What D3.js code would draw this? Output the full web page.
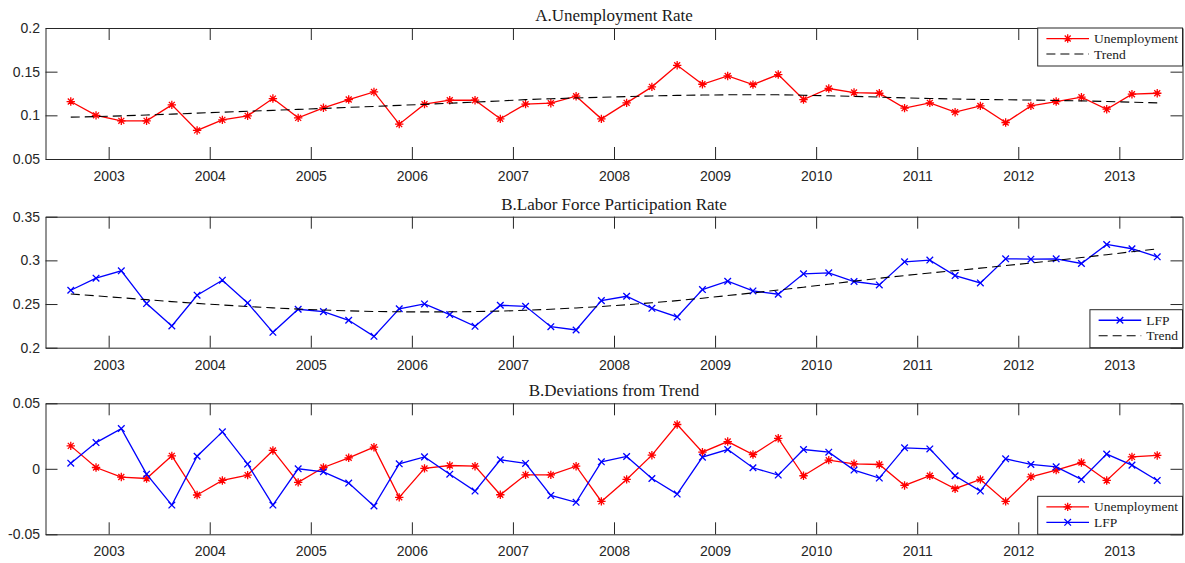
<!DOCTYPE html>
<html>
<head>
<meta charset="utf-8">
<script src="https://cdn.jsdelivr.net/npm/d3@7"></script>
<style>
  body { margin: 0; background: #fff; }
  svg { display: block; }
</style>
</head>
<body>
<svg id="chart" width="1185" height="563"></svg>
<script>
// Quarterly observations, 2002Q3 – 2013Q2
const quarters = [
  "2002Q3","2002Q4",
  "2003Q1","2003Q2","2003Q3","2003Q4",
  "2004Q1","2004Q2","2004Q3","2004Q4",
  "2005Q1","2005Q2","2005Q3","2005Q4",
  "2006Q1","2006Q2","2006Q3","2006Q4",
  "2007Q1","2007Q2","2007Q3","2007Q4",
  "2008Q1","2008Q2","2008Q3","2008Q4",
  "2009Q1","2009Q2","2009Q3","2009Q4",
  "2010Q1","2010Q2","2010Q3","2010Q4",
  "2011Q1","2011Q2","2011Q3","2011Q4",
  "2012Q1","2012Q2","2012Q3","2012Q4",
  "2013Q1","2013Q2"
];

const unemployment = [
  0.1158, 0.1000, 0.0937, 0.0937, 0.1120, 0.0827, 0.0948, 0.0994, 0.1192, 0.0971,
  0.1086, 0.1181, 0.1268, 0.0899, 0.1128, 0.1173, 0.1173, 0.0960, 0.1128, 0.1139,
  0.1219, 0.0960, 0.1143, 0.1326, 0.1573, 0.1356, 0.1451, 0.1352, 0.1467, 0.1181,
  0.1307, 0.1261, 0.1253, 0.1082, 0.1143, 0.1036, 0.1108, 0.0918, 0.1108, 0.1158,
  0.1208, 0.1070, 0.1242, 0.1253
];

const unemploymentTrend = [
  0.0979, 0.0986, 0.0994, 0.1004, 0.1014, 0.1025, 0.1036, 0.1046, 0.1057, 0.1068,
  0.1079, 0.1091, 0.1102, 0.1114, 0.1126, 0.1139, 0.1152, 0.1165, 0.1180, 0.1190,
  0.1199, 0.1207, 0.1215, 0.1222, 0.1228, 0.1232, 0.1235, 0.1236, 0.1235, 0.1230,
  0.1224, 0.1217, 0.1209, 0.1200, 0.1193, 0.1187, 0.1182, 0.1178, 0.1175, 0.1170,
  0.1165, 0.1159, 0.1150, 0.1143
];

const lfp = [
  0.2658, 0.2796, 0.2880, 0.2505, 0.2249, 0.2601, 0.2773, 0.2513, 0.2176, 0.2440,
  0.2413, 0.2314, 0.2130, 0.2446, 0.2501, 0.2379, 0.2245, 0.2486, 0.2474, 0.2241,
  0.2203, 0.2539, 0.2589, 0.2451, 0.2352, 0.2666, 0.2761, 0.2650, 0.2612, 0.2846,
  0.2857, 0.2758, 0.2719, 0.2983, 0.3003, 0.2826, 0.2742, 0.3018, 0.3014, 0.3018,
  0.2964, 0.3182, 0.3133, 0.3041
];

const lfpTrend = [
  0.2615, 0.2594, 0.2572, 0.2550, 0.2528, 0.2507, 0.2489, 0.2472, 0.2456, 0.2442,
  0.2431, 0.2422, 0.2415, 0.2411, 0.2410, 0.2411, 0.2414, 0.2419, 0.2428, 0.2440,
  0.2455, 0.2472, 0.2492, 0.2514, 0.2539, 0.2567, 0.2597, 0.2628, 0.2660, 0.2693,
  0.2727, 0.2762, 0.2795, 0.2826, 0.2855, 0.2883, 0.2911, 0.2940, 0.2970, 0.3000,
  0.3032, 0.3065, 0.3099, 0.3132
];

const unemploymentDev = [
  0.0175, 0.0010, -0.0063, -0.0074, 0.0099, -0.0200, -0.0089, -0.0048, 0.0140, -0.0104,
  0.0010, 0.0084, 0.0165, -0.0218, 0.0003, 0.0025, 0.0020, -0.0198, -0.0046, -0.0046,
  0.0020, -0.0249, -0.0081, 0.0104, 0.0338, 0.0127, 0.0208, 0.0109, 0.0233, -0.0053,
  0.0066, 0.0038, 0.0033, -0.0127, -0.0053, -0.0152, -0.0081, -0.0249, -0.0061, -0.0010,
  0.0048, -0.0089, 0.0091, 0.0102
];

const lfpDev = [
  0.0043, 0.0200, 0.0307, -0.0041, -0.0277, 0.0096, 0.0282, 0.0036, -0.0277, 0.0000,
  -0.0023, -0.0109, -0.0284, 0.0038, 0.0091, -0.0041, -0.0170, 0.0069, 0.0041, -0.0203,
  -0.0256, 0.0053, 0.0094, -0.0074, -0.0193, 0.0089, 0.0147, 0.0008, -0.0048, 0.0147,
  0.0127, -0.0010, -0.0071, 0.0160, 0.0152, -0.0053, -0.0170, 0.0076, 0.0033, 0.0015,
  -0.0081, 0.0112, 0.0028, -0.0089
];

const yearTicks = [2003, 2004, 2005, 2006, 2007, 2008, 2009, 2010, 2011, 2012, 2013];
const unemploymentTicks = [0.05, 0.1, 0.15, 0.2];
const lfpTicks = [0.2, 0.25, 0.3, 0.35];
const deviationTicks = [-0.05, 0, 0.05];

const titles = ["A.Unemployment Rate", "B.Labor Force Participation Rate", "B.Deviations from Trend"];

// ---- layout & styles ----
const AXIS_COLOR = "#262626";
const RED = "#ff0000", BLUE = "#0000ff";
const TICK_LEN = 12;
const plotLeft = 45.5, plotRight = 1182.5;
const panelHeight = 131;

// quarter label -> fractional year at mid-quarter
const quarterTime = q => +q.slice(0, 4) + (+q.slice(5) - 1) * 0.25 + 0.125;
const times = quarters.map(quarterTime);

const x = d3.scaleLinear()
  .domain([times[0] - 0.25, times[times.length - 1] + 0.25])
  .range([plotLeft, plotRight]);

const svg = d3.select("#chart");

const panels = [
  {
    top: 28, domain: [0.05, 0.2], ticks: unemploymentTicks, title: titles[0],
    series: [
      { name: "Unemployment", values: unemployment, color: RED, marker: "star" },
      { name: "Trend", values: unemploymentTrend, color: "#000", dashed: true }
    ],
    legendAt: "top"
  },
  {
    top: 216.7, domain: [0.2, 0.35], ticks: lfpTicks, title: titles[1],
    series: [
      { name: "LFP", values: lfp, color: BLUE, marker: "cross" },
      { name: "Trend", values: lfpTrend, color: "#000", dashed: true }
    ],
    legendAt: "bottom"
  },
  {
    top: 403.3, domain: [-0.05, 0.05], ticks: deviationTicks, title: titles[2],
    series: [
      { name: "Unemployment", values: unemploymentDev, color: RED, marker: "star" },
      { name: "LFP", values: lfpDev, color: BLUE, marker: "cross" }
    ],
    legendAt: "bottom"
  }
];

const starPath = (r) => {
  const d = r * Math.SQRT1_2;
  return `M${-r},0L${r},0M0,${-r}L0,${r}M${-d},${-d}L${d},${d}M${-d},${d}L${d},${-d}`;
};
const crossPath = (r) => `M${-r},${-r}L${r},${r}M${-r},${r}L${r},${-r}`;

function drawMarker(g, type, color) {
  g.append("path")
    .attr("d", type === "star" ? starPath(4.2) : crossPath(3.3))
    .attr("fill", "none")
    .attr("stroke", color)
    .attr("stroke-width", 1.3);
}

panels.forEach(p => {
  const y = d3.scaleLinear().domain(p.domain).range([p.top + panelHeight, p.top]);
  const g = svg.append("g");
  const bottom = p.top + panelHeight;

  // series
  p.series.forEach(s => {
    const pts = s.values.map((v, i) => [x(times[i]), y(v)]);
    g.append("path")
      .attr("d", d3.line()(pts))
      .attr("fill", "none")
      .attr("stroke", s.color)
      .attr("stroke-width", s.dashed ? 1.1 : 1.3)
      .attr("stroke-dasharray", s.dashed ? "9,5" : null);
    if (s.marker) {
      pts.forEach(([px, py]) => {
        drawMarker(g.append("g").attr("transform", `translate(${px},${py})`), s.marker, s.color);
      });
    }
  });

  // axes (ticks pointing inward on all four sides)
  const fmt = d => String(d);
  const axes = [
    [d3.axisBottom(x).tickValues(yearTicks).tickFormat(d3.format("d")).tickPadding(12), `translate(0,${bottom})`],
    [d3.axisTop(x).tickValues(yearTicks).tickFormat(""), `translate(0,${p.top})`],
    [d3.axisLeft(y).tickValues(p.ticks).tickFormat(fmt).tickPadding(5.5), `translate(${plotLeft},0)`],
    [d3.axisRight(y).tickValues(p.ticks).tickFormat(""), `translate(${plotRight},0)`]
  ];
  axes.forEach(([ax, tr]) => {
    const a = g.append("g")
      .attr("transform", tr)
      .call(ax.tickSizeInner(-TICK_LEN).tickSizeOuter(0));
    a.select(".domain").attr("stroke", AXIS_COLOR).attr("stroke-width", 1);
    a.selectAll(".tick line").attr("stroke", AXIS_COLOR).attr("stroke-width", 1);
    a.selectAll(".tick text")
      .attr("fill", AXIS_COLOR)
      .style("font-family", "'Liberation Sans', Arial, Helvetica, sans-serif")
      .style("font-size", "14px");
  });

  // title
  g.append("text")
    .attr("x", (plotLeft + plotRight) / 2)
    .attr("y", p.top - 13)
    .attr("dy", "0.35em")
    .attr("text-anchor", "middle")
    .attr("fill", "#1a1a1a")
    .style("font-family", "'Liberation Serif', 'Times New Roman', serif")
    .style("font-size", "17px")
    .text(p.title);

  // legend
  const legH = 38, rowGap = 15.5, sampleLen = 42.6, padL = 8.7, textGap = 5, padR = 4.5;
  const leg = g.append("g");
  const box = leg.append("rect").attr("fill", "#fff").attr("stroke", AXIS_COLOR).attr("stroke-width", 1);
  const texts = [];
  p.series.forEach((s, i) => {
    const row = leg.append("g").attr("class", "row");
    row.append("line")
      .attr("x1", 0).attr("x2", sampleLen)
      .attr("stroke", s.color)
      .attr("stroke-width", s.dashed ? 1.1 : 1.3)
      .attr("stroke-dasharray", s.dashed ? "9,5" : null);
    if (s.marker) drawMarker(row.append("g").attr("transform", `translate(${sampleLen / 2},0)`), s.marker, s.color);
    const t = row.append("text")
      .attr("x", sampleLen + textGap)
      .attr("dy", "0.33em")
      .attr("fill", "#1a1a1a")
      .style("font-family", "'Liberation Serif', 'Times New Roman', serif")
      .style("font-size", "13.5px")
      .text(s.name);
    texts.push(t);
  });
  const textW = d3.max(texts, t => t.node().getComputedTextLength());
  const legW = padL + sampleLen + textGap + textW + padR;
  const legX = plotRight - legW;
  const legY = p.legendAt === "top" ? p.top : bottom - legH;
  box.attr("x", legX).attr("y", legY).attr("width", legW).attr("height", legH);
  const mid = legY + legH / 2 - 0.7;
  leg.selectAll("g.row").attr("transform", (d, i) =>
    `translate(${legX + padL},${mid + (i - 0.5) * rowGap})`);
});
</script>
</body>
</html>
